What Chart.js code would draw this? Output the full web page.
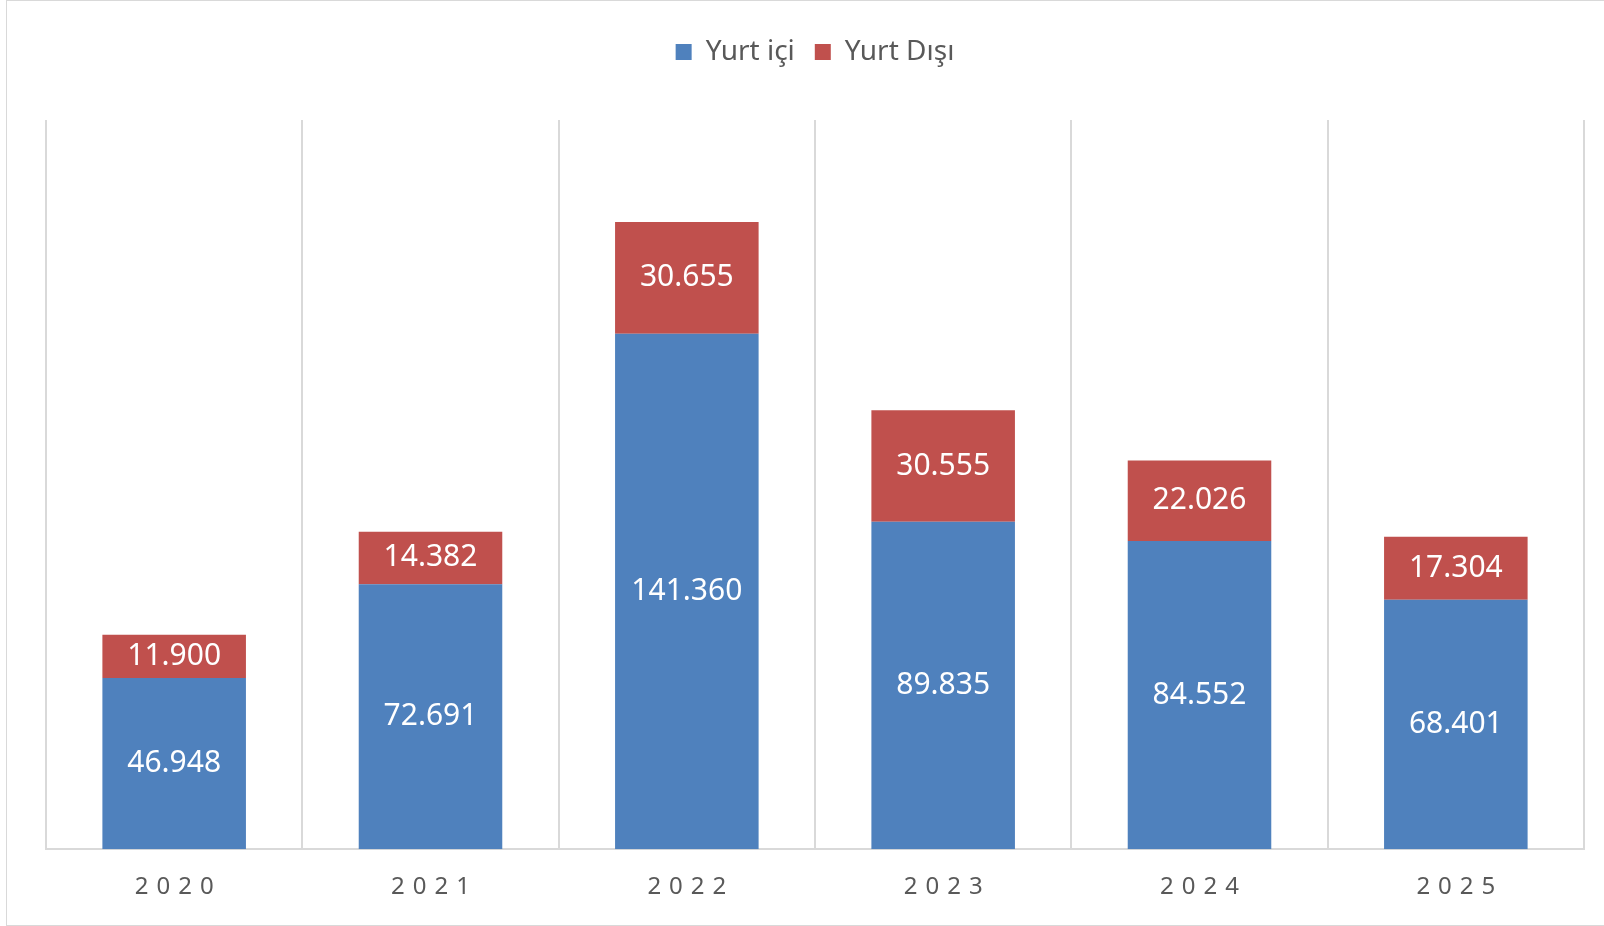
<!DOCTYPE html>
<html lang="tr">
<head>
    <meta charset="UTF-8" />
    <title>Yurt içi / Yurt Dışı</title>
    <script src="https://cdn.jsdelivr.net/npm/chart.js"></script>
    <style>
        body {
            margin: 0;
            background: #fff;
            font-family: "Noto Sans", sans-serif;
        }

        .wrap {
            position: relative;
            width: 1604px;
            height: 926px;
        }

        .frame {
            position: absolute;
            left: 6px;
            top: 0;
            width: 1604px;
            height: 924px;
            border: 1px solid #d9d9d9;
            border-right: none;
            pointer-events: none;
        }
    </style>
</head>
<body>
    <div class="wrap">
        <canvas id="chart" width="1604" height="926"></canvas>
        <div class="frame"></div>
    </div>

    <script>
        const years = ['2020', '2021', '2022', '2023', '2024', '2025'];
        const yurtIci = [46948, 72691, 141360, 89835, 84552, 68401];
        const yurtDisi = [11900, 14382, 30655, 30555, 22026, 17304];

        // 46948 -> "46.948"
        function fmt(n) {
            return String(n).replace(/\B(?=(\d{3})+(?!\d))/g, '.');
        }

        // values written in the middle of each segment
        const barLabels = {
            id: 'barLabels',
            afterDatasetsDraw(chart) {
                const ctx = chart.ctx;
                ctx.save();
                ctx.font = '30px "Noto Sans"';
                ctx.fillStyle = '#ffffff';
                ctx.textAlign = 'center';
                ctx.textBaseline = 'middle';
                chart.data.datasets.forEach((ds, i) => {
                    chart.getDatasetMeta(i).data.forEach((bar, j) => {
                        const y = (bar.y + bar.base) / 2;
                        ctx.fillText(fmt(ds.data[j]), bar.x, y);
                    });
                });
                ctx.restore();
            }
        };

        // extra room under the legend
        const legendGap = {
            id: 'legendGap',
            beforeInit(chart) {
                const fit = chart.legend.fit;
                chart.legend.fit = function () {
                    fit.bind(chart.legend)();
                    this.height += 44;
                };
            }
        };

        new Chart(document.getElementById('chart'), {
            type: 'bar',
            data: {
                labels: years,
                datasets: [
                    {
                        label: 'Yurt içi',
                        data: yurtIci,
                        backgroundColor: '#4F81BD',
                        barPercentage: 0.56,
                        categoryPercentage: 1
                    },
                    {
                        label: 'Yurt Dışı',
                        data: yurtDisi,
                        backgroundColor: '#C0504D',
                        barPercentage: 0.56,
                        categoryPercentage: 1
                    }
                ]
            },
            options: {
                responsive: false,
                animation: false,
                layout: {
                    padding: { left: 46, right: 20, top: 18, bottom: 0 }
                },
                plugins: {
                    legend: {
                        position: 'top',
                        labels: {
                            boxWidth: 16,
                            boxHeight: 16,
                            padding: 20,
                            color: '#595959',
                            font: { family: 'Noto Sans', size: 28 }
                        }
                    },
                    tooltip: { enabled: false }
                },
                scales: {
                    x: {
                        stacked: true,
                        grid: {
                            offset: true,
                            color: '#d9d9d9',
                            lineWidth: 2,
                            drawTicks: false
                        },
                        border: { color: '#d9d9d9', width: 2 },
                        ticks: {
                            color: '#595959',
                            padding: 24,
                            font: { family: 'Noto Sans', size: 24 },
                            callback: function (v) {
                                return this.getLabelForValue(v).split('').join('\u2004');
                            }
                        }
                    },
                    y: {
                        stacked: true,
                        display: false,
                        min: 0,
                        max: 200000
                    }
                }
            },
            plugins: [barLabels, legendGap]
        });
    </script>
</body>
</html>
